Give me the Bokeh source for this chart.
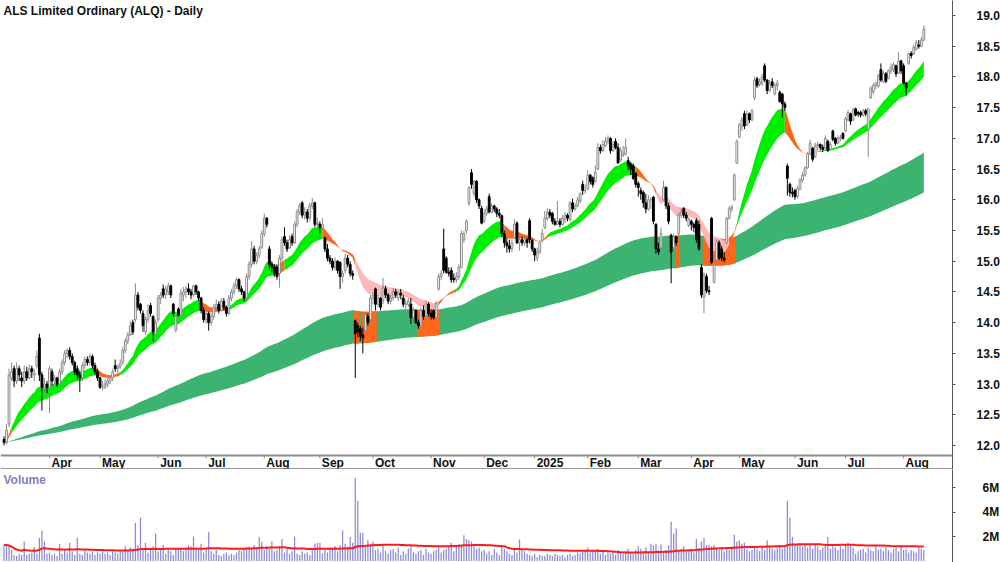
import numpy as np
import pandas as pd
from bokeh.plotting import figure
from bokeh.layouts import column
from bokeh.models import Range1d, FixedTicker, Label, NumeralTickFormatter, Span
from bokeh.embed import file_html
from bokeh.resources import INLINE
from bokeh.core.properties import value

title_text = "ALS Limited Ordinary (ALQ) - Daily"
start_date = "2024-03-05"
end_date = "2025-08-13"
asx_holidays = ["2024-03-29", "2024-04-01", "2024-04-25", "2024-06-10", "2024-12-25", "2024-12-26",
                "2025-01-01", "2025-01-27", "2025-04-18", "2025-04-21", "2025-04-25", "2025-06-09"]

opens = [
 12.10, 12.05, 12.35, 13.10, 13.25, 13.05, 13.25, 13.10, 13.05, 13.20,
 13.10, 13.25, 13.15, 13.30, 13.75, 13.15, 12.95, 13.00, 12.95, 13.20,
 13.05, 13.10, 13.00, 13.20, 13.35, 13.50, 13.55, 13.45, 13.35, 13.25,
 13.15, 13.10, 13.30, 13.40, 13.35, 13.45, 13.30, 13.20, 13.10, 12.95,
 12.95, 13.00, 13.05, 13.10, 13.30, 13.25, 13.28, 13.35, 13.55, 13.70,
 13.80, 14.00, 14.05, 14.45, 14.30, 14.15, 13.85, 14.05, 14.28, 14.10,
 13.82, 14.05, 14.40, 14.55, 14.45, 14.50, 14.60, 14.30, 13.88, 14.22,
 14.12, 14.45, 14.50, 14.55, 14.50, 14.45, 14.60, 14.50, 14.40, 14.20,
 14.05, 14.15, 14.00, 14.10, 14.25, 14.30, 14.20, 14.35, 14.25, 14.15,
 14.40, 14.50, 14.60, 14.70, 14.55, 14.50, 14.40, 14.75, 14.95, 15.20,
 15.00, 15.10, 15.22, 15.45, 15.70, 15.20, 14.95, 14.90, 14.90, 14.80,
 15.05, 15.40, 15.30, 15.22, 15.40, 15.30, 15.60, 15.80, 15.95, 15.75,
 15.80, 15.70, 15.90, 15.95, 15.60, 15.60, 15.55, 15.38, 15.20, 15.05,
 15.00, 14.90, 15.00, 14.98, 14.75, 14.85, 15.05, 14.95, 14.80, 14.03,
 13.95, 13.90, 13.80, 13.87, 14.10, 14.05, 14.40, 14.55, 14.30, 14.40,
 14.36, 14.55, 14.45, 14.35, 14.40, 14.50, 14.40, 14.48, 14.40, 14.30,
 14.30, 14.30, 14.08, 14.20, 14.00, 13.95, 14.20, 14.10, 14.30, 14.15,
 14.20, 14.08, 14.55, 14.75, 15.20, 15.05, 14.82, 14.85, 14.72, 14.70,
 14.75, 14.90, 15.35, 15.50, 15.94, 16.44, 16.10, 16.30, 16.00, 15.86,
 15.65, 15.78, 16.05, 15.80, 15.90, 15.85, 15.78, 15.74, 15.45, 15.30,
 15.25, 15.20, 15.39, 15.62, 15.30, 15.35, 15.30, 15.35, 15.66, 15.34,
 15.20, 15.05, 15.15, 15.34, 15.55, 15.70, 15.80, 15.78, 15.65, 15.60,
 15.65, 15.60, 15.68, 15.75, 15.68, 15.95, 15.85, 15.90, 15.98, 16.25,
 16.15, 16.18, 16.40, 16.36, 16.30, 16.50, 16.85, 16.80, 16.88, 16.95,
 17.00, 16.80, 16.95, 16.85, 16.65, 16.72, 16.75, 16.64, 16.58, 16.55,
 16.43, 16.27, 16.15, 16.12, 15.95, 15.85, 16.00, 16.04, 15.60, 15.20,
 15.22, 16.00, 16.20, 15.90, 15.42, 15.22, 15.40, 15.45, 15.75, 15.86,
 15.75, 15.58, 15.65, 15.60, 15.66, 15.60, 14.90, 14.42, 14.75, 14.52,
 15.70, 14.66, 15.02, 15.30, 15.20, 15.05, 15.30, 15.70, 15.85, 16.00,
 16.60, 17.02, 17.20, 17.40, 17.22, 17.40, 17.30, 17.66, 17.97, 17.88,
 17.90, 18.18, 17.95, 17.78, 17.92, 17.72, 17.86, 17.75, 17.72, 17.56,
 16.55, 16.25, 16.12, 16.15, 16.05, 16.18, 16.32, 16.40, 16.52, 16.75,
 16.84, 16.70, 16.88, 16.90, 16.85, 16.84, 16.95, 16.82, 17.12, 17.00,
 16.92, 17.00, 17.08, 17.12, 17.30, 17.40, 17.30, 17.48, 17.42, 17.42,
 17.38, 17.45, 17.15, 17.66, 17.76, 17.86, 17.85, 18.12, 17.92, 18.05,
 17.98, 18.10, 18.12, 18.18, 18.06, 18.26, 18.18, 17.90, 18.22, 18.38,
 18.38, 18.45, 18.52, 18.50, 18.60]

highs = [
 12.15, 12.35, 13.25, 13.35, 13.30, 13.35, 13.30, 13.20, 13.30, 13.28,
 13.32, 13.30, 13.25, 13.55, 13.82, 13.20, 13.10, 13.05, 13.30, 13.25,
 13.15, 13.12, 13.25, 13.40, 13.55, 13.58, 13.60, 13.50, 13.38, 13.30,
 13.22, 13.35, 13.45, 13.45, 13.50, 13.48, 13.35, 13.25, 13.12, 13.05,
 13.08, 13.10, 13.15, 13.25, 13.40, 13.32, 13.40, 13.60, 13.75, 13.85,
 14.03, 14.05, 14.64, 14.50, 14.32, 14.20, 14.10, 14.30, 14.32, 14.12,
 14.05, 14.45, 14.50, 14.62, 14.60, 14.65, 14.62, 14.32, 14.12, 14.25,
 14.55, 14.58, 14.60, 14.64, 14.55, 14.62, 14.62, 14.52, 14.42, 14.25,
 14.20, 14.18, 14.15, 14.30, 14.38, 14.35, 14.40, 14.40, 14.28, 14.45,
 14.55, 14.65, 14.73, 14.72, 14.60, 14.52, 14.80, 15.00, 15.33, 15.25,
 15.15, 15.25, 15.50, 15.78, 15.72, 15.25, 15.00, 14.95, 14.95, 15.10,
 15.40, 15.55, 15.35, 15.42, 15.45, 15.65, 15.85, 15.95, 15.98, 15.88,
 15.85, 15.95, 16.03, 15.97, 15.71, 15.65, 15.70, 15.40, 15.28, 15.10,
 15.05, 15.06, 15.02, 15.00, 14.85, 15.12, 15.10, 15.00, 14.85, 14.05,
 14.00, 13.95, 13.92, 14.15, 14.15, 14.45, 14.50, 14.57, 14.45, 14.42,
 14.73, 14.60, 14.48, 14.45, 14.57, 14.55, 14.52, 14.55, 14.45, 14.38,
 14.40, 14.40, 14.25, 14.22, 14.05, 14.25, 14.28, 14.36, 14.33, 14.22,
 14.22, 14.35, 14.80, 14.85, 15.53, 15.08, 14.90, 14.90, 14.80, 14.82,
 14.95, 15.50, 15.50, 15.68, 16.22, 16.50, 16.32, 16.32, 16.02, 15.90,
 15.85, 15.90, 16.10, 15.95, 15.92, 15.88, 15.85, 15.76, 15.50, 15.39,
 15.35, 15.35, 15.69, 15.65, 15.42, 15.40, 15.40, 15.38, 15.70, 15.36,
 15.22, 15.22, 15.34, 15.53, 15.82, 15.87, 15.85, 15.80, 15.70, 15.98,
 15.70, 15.75, 15.80, 15.78, 15.98, 16.02, 15.95, 16.05, 16.12, 16.31,
 16.25, 16.48, 16.42, 16.38, 16.56, 16.92, 16.90, 16.97, 17.02, 17.05,
 17.02, 16.95, 17.00, 16.92, 16.85, 16.88, 17.00, 16.70, 16.62, 16.59,
 16.45, 16.30, 16.20, 16.15, 16.10, 16.08, 16.05, 16.06, 15.62, 15.30,
 15.55, 16.31, 16.22, 15.95, 15.45, 15.45, 15.42, 15.80, 15.86, 15.88,
 15.80, 15.72, 15.68, 15.63, 15.70, 15.66, 14.95, 14.82, 14.80, 14.60,
 15.72, 14.98, 15.36, 15.34, 15.25, 15.15, 15.72, 15.90, 15.92, 16.43,
 16.98, 17.25, 17.35, 17.45, 17.45, 17.42, 17.48, 18.00, 18.00, 17.98,
 18.05, 18.22, 17.96, 17.95, 17.98, 17.90, 17.95, 17.78, 17.74, 17.60,
 16.59, 16.28, 16.20, 16.18, 16.22, 16.35, 16.45, 16.55, 16.78, 16.98,
 16.86, 16.93, 16.95, 16.92, 16.90, 17.05, 16.98, 16.95, 17.14, 17.02,
 17.05, 17.06, 17.10, 17.35, 17.46, 17.42, 17.50, 17.50, 17.45, 17.45,
 17.48, 17.48, 17.50, 17.85, 17.90, 17.92, 18.05, 18.22, 18.10, 18.08,
 18.12, 18.22, 18.24, 18.20, 18.40, 18.28, 18.22, 17.92, 18.40, 18.42,
 18.52, 18.60, 18.60, 18.65, 18.84]

lows = [
 12.00, 12.02, 12.30, 13.05, 12.95, 13.00, 13.05, 12.95, 13.00, 13.05,
 13.08, 13.10, 13.05, 13.25, 13.05, 12.57, 12.85, 12.85, 12.53, 12.98,
 12.98, 12.95, 12.98, 13.15, 13.30, 13.42, 13.40, 13.30, 13.15, 13.08,
 12.87, 13.05, 13.25, 13.30, 13.30, 13.25, 13.15, 13.05, 12.92, 12.90,
 12.92, 12.95, 13.00, 13.05, 13.20, 13.18, 13.25, 13.32, 13.50, 13.65,
 13.78, 13.80, 14.00, 14.20, 14.15, 13.85, 13.80, 14.00, 14.10, 13.70,
 13.75, 14.00, 14.30, 14.40, 14.38, 14.45, 14.40, 14.10, 13.84, 14.10,
 14.10, 14.35, 14.40, 14.45, 14.38, 14.42, 14.45, 14.35, 14.15, 14.00,
 13.98, 13.87, 13.95, 14.05, 14.20, 14.15, 14.18, 14.20, 14.10, 14.12,
 14.35, 14.45, 14.55, 14.50, 14.45, 14.35, 14.38, 14.70, 14.90, 14.95,
 14.95, 15.05, 15.20, 15.40, 15.55, 14.85, 14.82, 14.75, 14.70, 14.57,
 15.00, 15.25, 15.15, 15.20, 15.25, 15.28, 15.55, 15.75, 15.70, 15.68,
 15.63, 15.65, 15.85, 15.55, 15.50, 15.45, 15.50, 15.15, 15.00, 14.95,
 14.85, 14.85, 14.80, 14.55, 14.65, 14.80, 14.90, 14.75, 14.70, 13.10,
 13.76, 13.70, 13.50, 13.85, 13.95, 14.00, 14.30, 14.20, 14.25, 14.20,
 14.30, 14.40, 14.30, 14.30, 14.36, 14.40, 14.35, 14.38, 14.25, 14.22,
 14.25, 13.98, 14.00, 13.98, 13.90, 13.92, 14.05, 14.08, 14.10, 14.05,
 14.05, 14.06, 14.52, 14.70, 14.80, 14.80, 14.75, 14.65, 14.65, 14.65,
 14.70, 14.88, 15.30, 15.45, 15.90, 16.18, 16.05, 15.95, 15.85, 15.60,
 15.62, 15.74, 15.78, 15.78, 15.80, 15.72, 15.70, 15.39, 15.22, 15.14,
 15.14, 15.15, 15.36, 15.28, 15.17, 15.25, 15.25, 15.22, 15.29, 15.15,
 15.00, 15.00, 15.12, 15.30, 15.52, 15.66, 15.70, 15.60, 15.58, 15.58,
 15.55, 15.58, 15.62, 15.65, 15.65, 15.80, 15.82, 15.88, 15.94, 16.08,
 16.10, 16.15, 16.25, 16.20, 16.28, 16.48, 16.75, 16.78, 16.85, 16.90,
 16.75, 16.78, 16.82, 16.59, 16.62, 16.70, 16.72, 16.48, 16.40, 16.32,
 16.20, 16.05, 16.00, 15.87, 15.78, 15.82, 15.85, 15.60, 15.12, 15.10,
 15.20, 15.98, 15.85, 15.60, 14.64, 15.20, 15.25, 15.42, 15.70, 15.70,
 15.65, 15.55, 15.50, 15.47, 15.30, 15.17, 14.40, 14.15, 14.48, 14.45,
 14.95, 14.64, 15.00, 15.02, 15.00, 14.98, 15.28, 15.68, 15.80, 15.98,
 16.58, 17.00, 17.12, 17.15, 17.20, 17.25, 17.28, 17.62, 17.82, 17.84,
 17.85, 17.92, 17.72, 17.75, 17.82, 17.70, 17.78, 17.58, 17.34, 17.45,
 16.07, 16.05, 16.04, 16.00, 16.02, 16.15, 16.28, 16.38, 16.50, 16.72,
 16.62, 16.68, 16.80, 16.80, 16.78, 16.82, 16.78, 16.80, 16.95, 16.88,
 16.90, 16.95, 16.98, 17.10, 17.28, 17.22, 17.28, 17.36, 17.35, 17.34,
 17.35, 17.36, 16.70, 17.64, 17.72, 17.80, 17.82, 17.92, 17.90, 17.90,
 17.96, 18.05, 18.08, 18.00, 18.05, 18.05, 17.88, 17.70, 18.20, 18.30,
 18.36, 18.43, 18.46, 18.48, 18.58]

closes = [
 12.05, 12.25, 13.15, 13.20, 13.05, 13.25, 13.15, 13.05, 13.20, 13.10,
 13.25, 13.20, 13.18, 13.45, 13.15, 12.95, 13.00, 12.95, 13.25, 13.05,
 13.10, 13.00, 13.20, 13.35, 13.50, 13.55, 13.45, 13.35, 13.20, 13.15,
 13.10, 13.30, 13.40, 13.35, 13.45, 13.30, 13.20, 13.10, 12.95, 12.95,
 13.00, 13.05, 13.10, 13.20, 13.25, 13.28, 13.33, 13.55, 13.70, 13.80,
 13.95, 13.85, 14.45, 14.25, 14.20, 13.95, 14.05, 14.20, 14.15, 13.85,
 14.00, 14.40, 14.45, 14.45, 14.55, 14.60, 14.45, 14.15, 14.10, 14.12,
 14.48, 14.50, 14.55, 14.50, 14.45, 14.60, 14.50, 14.40, 14.20, 14.05,
 14.15, 14.00, 14.10, 14.25, 14.30, 14.20, 14.35, 14.25, 14.15, 14.40,
 14.50, 14.60, 14.70, 14.55, 14.50, 14.40, 14.75, 14.95, 15.20, 15.00,
 15.10, 15.20, 15.45, 15.70, 15.60, 14.95, 14.90, 14.80, 14.75, 15.05,
 15.35, 15.30, 15.20, 15.35, 15.30, 15.60, 15.80, 15.90, 15.75, 15.80,
 15.70, 15.90, 15.95, 15.60, 15.62, 15.55, 15.60, 15.20, 15.05, 15.00,
 14.90, 15.00, 14.85, 14.75, 14.80, 15.05, 14.95, 14.80, 14.77, 13.82,
 13.85, 13.78, 13.75, 14.12, 14.00, 14.40, 14.45, 14.30, 14.40, 14.25,
 14.57, 14.45, 14.35, 14.40, 14.50, 14.45, 14.48, 14.45, 14.30, 14.30,
 14.35, 14.08, 14.20, 14.00, 13.95, 14.20, 14.10, 14.30, 14.15, 14.10,
 14.08, 14.32, 14.75, 14.80, 14.85, 14.82, 14.80, 14.70, 14.70, 14.75,
 14.90, 15.45, 15.45, 15.65, 16.20, 16.25, 16.30, 16.00, 15.90, 15.62,
 15.78, 15.85, 15.80, 15.90, 15.85, 15.78, 15.75, 15.45, 15.30, 15.25,
 15.20, 15.30, 15.60, 15.30, 15.35, 15.30, 15.35, 15.30, 15.35, 15.20,
 15.10, 15.15, 15.30, 15.45, 15.70, 15.80, 15.75, 15.65, 15.60, 15.65,
 15.60, 15.70, 15.75, 15.70, 15.95, 15.85, 15.90, 16.00, 16.10, 16.15,
 16.15, 16.40, 16.30, 16.25, 16.45, 16.85, 16.80, 16.90, 16.95, 17.00,
 16.80, 16.90, 16.85, 16.60, 16.80, 16.75, 16.85, 16.55, 16.50, 16.35,
 16.25, 16.20, 16.10, 15.95, 15.85, 16.00, 16.00, 15.65, 15.20, 15.15,
 15.45, 16.20, 15.90, 15.65, 15.15, 15.40, 15.30, 15.75, 15.80, 15.75,
 15.70, 15.68, 15.60, 15.55, 15.35, 15.20, 14.45, 14.78, 14.52, 14.50,
 14.98, 14.95, 15.32, 15.05, 15.05, 15.02, 15.70, 15.85, 15.88, 16.40,
 16.95, 17.22, 17.30, 17.20, 17.40, 17.30, 17.45, 17.95, 17.86, 17.92,
 18.00, 17.95, 17.78, 17.90, 17.86, 17.86, 17.90, 17.60, 17.56, 17.50,
 16.35, 16.12, 16.10, 16.05, 16.18, 16.32, 16.40, 16.52, 16.75, 16.92,
 16.66, 16.88, 16.90, 16.85, 16.82, 17.00, 16.80, 16.90, 16.98, 16.92,
 17.00, 17.02, 17.00, 17.32, 17.42, 17.28, 17.46, 17.38, 17.40, 17.38,
 17.45, 17.40, 17.48, 17.82, 17.86, 17.90, 18.02, 17.95, 18.06, 17.93,
 18.10, 18.15, 18.20, 18.05, 18.26, 18.10, 17.90, 17.82, 18.38, 18.35,
 18.48, 18.56, 18.50, 18.60, 18.78]

volumes_m = [
 1.3, 1.3, 1.2, 0.9, 0.5, 0.4, 0.6, 0.5, 1.6, 0.5,
 0.6, 0.7, 1.15, 0.6, 1.9, 2.5, 1.6, 0.6, 0.7, 0.5,
 0.6, 0.4, 1.4, 0.6, 0.9, 0.7, 1.5, 0.8, 0.5, 1.9,
 0.6, 0.5, 0.9, 0.7, 0.6, 0.8, 0.5, 0.7, 0.6, 0.8,
 0.6, 0.7, 0.5, 0.8, 0.7, 0.6, 0.9, 0.8, 1.2, 0.9,
 1.1, 1.0, 3.1, 1.3, 3.55, 1.0, 1.5, 0.7, 0.9, 1.2,
 2.25, 0.8, 1.0, 1.3, 0.6, 0.9, 0.8, 0.5, 1.0, 0.9,
 1.0, 0.8, 1.1, 1.3, 1.2, 2.0, 1.1, 0.9, 1.4, 0.7,
 1.0, 2.35, 0.8, 0.6, 0.9, 0.5, 0.4, 0.6, 0.7, 0.5,
 0.6, 0.5, 0.7, 0.9, 0.8, 1.0, 1.1, 1.2, 1.0, 1.3,
 1.1, 1.95, 1.6, 0.9, 1.2, 1.0, 1.6, 0.8, 0.9, 1.2,
 1.8, 0.7, 1.0, 0.6, 0.8, 2.0, 0.6, 0.5, 0.8, 0.6,
 0.7, 0.5, 0.9, 1.4, 1.5, 1.5, 0.6, 0.9, 0.7, 1.1,
 1.0, 1.2, 0.8, 1.3, 2.5, 1.4, 1.2, 1.95, 1.5, 6.8,
 4.9, 2.3, 2.3, 1.3, 1.7, 1.4, 1.6, 0.9, 1.0, 0.7,
 1.3, 0.8, 0.6, 0.9, 1.0, 0.7, 1.1, 0.5, 0.8, 0.6,
 1.0, 1.2, 0.7, 0.6, 0.8, 0.9, 0.5, 1.0, 0.7, 0.6,
 0.8, 0.9, 1.1, 0.7, 0.9, 1.0, 1.2, 1.5, 0.8, 1.2,
 1.4, 1.3, 2.1, 1.8, 1.7, 1.6, 1.2, 1.0, 1.1, 0.8,
 0.9, 0.6, 0.8, 0.5, 1.0, 0.7, 0.5, 1.3, 1.0, 0.8,
 0.6, 0.5, 1.0, 0.7, 1.75, 0.9, 0.8, 0.6, 0.5, 0.4,
 0.6, 0.3, 0.5, 0.4, 0.4, 0.6, 0.5, 0.4, 0.6, 0.5,
 0.4, 0.5, 0.3, 0.5, 0.6, 0.4, 0.5, 0.7, 0.6, 0.8,
 0.9, 1.1, 0.7, 0.8, 0.9, 1.0, 0.6, 0.9, 0.5, 0.7,
 0.6, 0.8, 0.5, 0.9, 0.7, 0.6, 0.8, 1.0, 0.7, 0.6,
 0.9, 1.2, 1.0, 0.8, 1.1, 0.7, 1.4, 1.3, 1.4, 0.9,
 1.35, 0.8, 0.9, 1.3, 3.2, 2.25, 2.65, 0.9, 1.0, 1.2,
 0.8, 0.9, 1.0, 0.7, 1.8, 1.1, 1.6, 1.9, 1.3, 1.3,
 1.2, 1.3, 1.0, 0.9, 1.1, 0.8, 1.0, 0.9, 1.2, 2.15,
 1.6, 1.7, 1.4, 1.5, 1.0, 0.8, 0.9, 1.1, 1.0, 0.8,
 1.1, 0.9, 1.7, 1.2, 1.0, 0.9, 1.1, 1.3, 1.0, 1.2,
 4.9, 3.55, 1.95, 1.4, 1.3, 1.4, 1.2, 1.3, 1.1, 1.4,
 1.0, 1.3, 1.2, 0.9, 1.1, 1.3, 1.95, 1.0, 1.2, 1.1,
 0.9, 1.2, 1.0, 1.3, 1.5, 1.3, 1.1, 0.6, 0.8, 0.9,
 1.0, 0.7, 1.1, 0.9, 0.8, 1.2, 0.9, 1.0, 0.8, 1.1,
 0.9, 0.7, 1.0, 1.1, 0.8, 1.2, 0.9, 1.0, 0.7, 0.9,
 0.8, 0.7, 1.1, 1.0, 0.9]

# ribbon colour states: (first bar, last bar, state)
short_band_runs = [(0, 2, "o"), (36, 45, "o"), (78, 88, "o"), (107, 110, "o"),
                   (126, 138, "o"), (139, 171, "p"), (172, 178, "o"), (198, 214, "o"),
                   (250, 257, "o"), (258, 286, "p"), (287, 289, "o"), (309, 321, "o")]
long_band_orange_runs = [(139, 140), (142, 147), (164, 172), (266, 267), (277, 289)]

price_ticks = [12.0, 12.5, 13.0, 13.5, 14.0, 14.5, 15.0, 15.5, 16.0, 16.5, 17.0, 17.5, 18.0, 18.5, 19.0]
volume_ticks = [2, 4, 6]
volume_tick_labels = {2: "2M", 4: "4M", 6: "6M"}

SHORT_FAST, SHORT_SLOW = 17, 30
LONG_FAST, LONG_SLOW = 150, 250
VOL_MA = 60

# ---------------------------------------------------------------
n = min(len(opens), len(highs), len(lows), len(closes), len(volumes_m))
dates = pd.bdate_range(start_date, end_date, freq="C", holidays=asx_holidays)[:n]
idx = np.arange(n)
o = np.array(opens[:n]); h = np.array(highs[:n]); l = np.array(lows[:n]); c = np.array(closes[:n])
vol = np.array(volumes_m[:n])

cs = pd.Series(c)
sf = cs.ewm(span=SHORT_FAST, adjust=False).mean().values
ss = cs.ewm(span=SHORT_SLOW, adjust=False).mean().values
lf = cs.ewm(span=LONG_FAST, adjust=False).mean().values
ls = cs.ewm(span=LONG_SLOW, adjust=False).mean().values
s_lo, s_hi = np.minimum(sf, ss), np.maximum(sf, ss)
l_lo, l_hi = np.minimum(lf, ls), np.maximum(lf, ls)
vol_ma = pd.Series(vol).rolling(VOL_MA, min_periods=1).mean().values

FONT = "Liberation Sans"
PX_PER_UNIT = 61.43
Y_TOP = 19.0 + 15 / PX_PER_UNIT
FRAME_H = 469
Y_BOT = Y_TOP - FRAME_H / PX_PER_UNIT
X0 = -1.385
X1 = X0 + 952 / 2.527

p = figure(frame_width=952, frame_height=FRAME_H, x_range=Range1d(X0, X1), y_range=Range1d(Y_BOT, Y_TOP),
           y_axis_location="right", x_axis_location=None, output_backend="svg", toolbar_location=None,
           min_border_left=0, min_border_right=48, min_border_top=0, min_border_bottom=0)
p.outline_line_color = None
p.xgrid.visible = False
p.ygrid.visible = False
p.background_fill_color = "white"
p.border_fill_color = "white"

ax = p.yaxis[0]
ax.ticker = FixedTicker(ticks=price_ticks)
ax.formatter = NumeralTickFormatter(format="0.0")
ax.major_tick_in = 0
ax.major_tick_out = 3
ax.minor_tick_in = 0
ax.minor_tick_out = 0
ax.major_label_standoff = 21
ax.major_label_text_font = FONT
ax.major_label_text_font_style = "bold"
ax.major_label_text_font_size = "12px"
ax.major_label_text_color = "#111111"
ax.axis_line_color = "#555555"
ax.major_tick_line_color = "#555555"

# long-term band
p.varea(x=idx, y1=l_lo, y2=l_hi, fill_color="#3cb371")
for a, b in long_band_orange_runs:
    xs = [a - 0.5] + list(idx[a:b + 1]) + [b + 0.5]
    y1 = [l_lo[a]] + list(l_lo[a:b + 1]) + [l_lo[b]]
    y2 = [l_hi[a]] + list(l_hi[a:b + 1]) + [l_hi[b]]
    p.varea(x=xs, y1=y1, y2=y2, fill_color="#ff661a")

# short-term band
state = ["g"] * n
for a, b, s in short_band_runs:
    for i in range(a, min(b, n - 1) + 1):
        state[i] = s
band_colors = {"g": "#00ee00", "o": "#ff661a", "p": "#ffb8b8"}
i = 0
while i < n:
    j = i
    while j + 1 < n and state[j + 1] == state[i]:
        j += 1
    e = min(j + 2, n)
    p.varea(x=idx[i:e], y1=s_lo[i:e], y2=s_hi[i:e], fill_color=band_colors[state[i]])
    i = j + 1

# candles
up = c >= o
wick_col = np.where(up, "#8a8a8a", "#000000")
p.segment(x0=idx, y0=l, x1=idx, y1=h, line_color=list(wick_col), line_width=1)
p.vbar(x=idx[up], width=0.72, top=c[up], bottom=o[up], fill_color="white", line_color="#8a8a8a", line_width=1)
p.vbar(x=idx[~up], width=0.72, top=o[~up], bottom=c[~up], fill_color="black", line_color="black", line_width=1)

# date strip
strip_top = Y_TOP - 455 / PX_PER_UNIT
strip_bot = Y_TOP - 468.5 / PX_PER_UNIT
p.add_layout(Span(location=strip_top, dimension="width", line_color="#8c8c8c", line_width=2))
p.add_layout(Span(location=strip_bot, dimension="width", line_color="#7a7a7a", line_width=1.5))
month_idx, month_lbl = [], []
for k in range(1, n):
    if dates[k].month != dates[k - 1].month:
        month_idx.append(k)
        month_lbl.append(str(dates[k].year) if dates[k].month == 1 else dates[k].strftime("%b"))
p.segment(x0=month_idx, y0=[strip_top] * len(month_idx), x1=month_idx,
          y1=[strip_top - 3 / PX_PER_UNIT] * len(month_idx), line_color="#8c8c8c", line_width=1)
p.text(x=month_idx, y=[Y_TOP - 462 / PX_PER_UNIT] * len(month_idx), text=month_lbl, x_offset=2,
       text_align="left", text_baseline="middle", text_font=value(FONT), text_font_style="bold",
       text_font_size="12px", text_color="#111111")

p.add_layout(Label(x=3, y=FRAME_H - 3, x_units="screen", y_units="screen", text=title_text,
                   text_baseline="top", text_font=FONT, text_font_style="bold", text_font_size="12px",
                   text_color="#111111"))

# volume panel
V_FRAME_H = 93
V_PX = 12.25
v_bot = -(V_FRAME_H - 91.5) / V_PX
v_top = 91.5 / V_PX
v = figure(frame_width=952, frame_height=V_FRAME_H, x_range=p.x_range, y_range=Range1d(v_bot, v_top),
           y_axis_location="right", x_axis_location=None, output_backend="svg", toolbar_location=None,
           min_border_left=0, min_border_right=48, min_border_top=0, min_border_bottom=0)
v.outline_line_color = None
v.xgrid.visible = False
v.ygrid.visible = False
vax = v.yaxis[0]
vax.ticker = FixedTicker(ticks=volume_ticks)
vax.major_label_overrides = volume_tick_labels
vax.major_tick_in = 0
vax.major_tick_out = 3
vax.minor_tick_in = 0
vax.minor_tick_out = 0
vax.major_label_standoff = 27
vax.major_label_text_font = FONT
vax.major_label_text_font_style = "bold"
vax.major_label_text_font_size = "12px"
vax.major_label_text_color = "#111111"
vax.axis_line_color = "#555555"
vax.major_tick_line_color = "#555555"

v.vbar(x=idx, width=0.5, top=vol, bottom=0, fill_color="#8c8cd4", line_color=None)
v.line(x=idx, y=vol_ma, line_color="#ff1a1a", line_width=2)
v.add_layout(Label(x=3, y=V_FRAME_H - 3, x_units="screen", y_units="screen", text="Volume",
                   text_baseline="top", text_font=FONT, text_font_style="bold", text_font_size="12px",
                   text_color="#7f7fc4"))

layout = column(p, v, spacing=0)
open("out.html", "w").write(file_html(layout, INLINE))
